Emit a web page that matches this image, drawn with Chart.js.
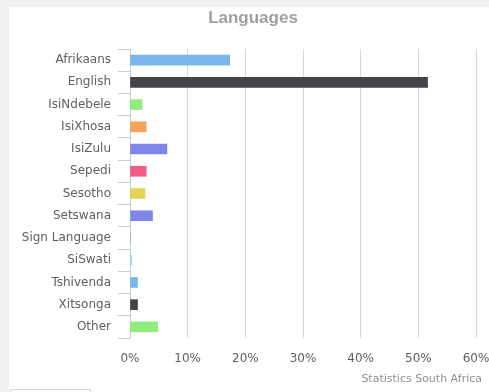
<!DOCTYPE html>
<html>
<head>
<meta charset="utf-8">
<script src="https://cdn.jsdelivr.net/npm/chart.js@4"></script>
<style>
  html, body { margin: 0; padding: 0; width: 489px; height: 392px; overflow: hidden; background: #f1f1f1; }
  #panel { position: absolute; left: 9px; top: 7px; width: 500px; height: 400px; background: #ffffff; }
  #box { position: absolute; left: 10px; top: 389px; width: 79px; height: 20px; border: 1px solid #d4d4d4; background: #fff; }
  #c { position: absolute; left: 0; top: 0; }
  #credits { position: absolute; right: 7px; top: 372px; font: 11px "DejaVu Sans", sans-serif; color: #909090; white-space: nowrap; }
</style>
</head>
<body>
<div id="panel"></div>
<div id="box"></div>
<canvas id="c" width="496" height="392"></canvas>
<div id="credits">Statistics South Africa</div>
<script>
const categories = ["Afrikaans", "English", "IsiNdebele", "IsiXhosa", "IsiZulu", "Sepedi", "Sesotho", "Setswana", "Sign Language", "SiSwati", "Tshivenda", "Xitsonga", "Other"];
const shares = [17.3, 51.6, 2.1, 2.8, 6.4, 2.8, 2.6, 3.9, 0, 0.3, 1.3, 1.3, 4.8];
const barColors = ["#7cb5ec", "#434348", "#90ed7d", "#f7a35c", "#8085e9", "#f15c80", "#e4d354", "#8085e8", "#8d4653", "#91e8e1", "#7cb5ec", "#434348", "#90ed7d"];
const xTicks = [0, 10, 20, 30, 40, 50, 60];

new Chart(document.getElementById('c'), {
  type: 'bar',
  data: {
    labels: categories,
    datasets: [{
      label: 'Languages',
      data: shares,
      backgroundColor: barColors,
      borderWidth: 0,
      barThickness: 10,
      categoryPercentage: 1
    }]
  },
  options: {
    indexAxis: 'y',
    responsive: false,
    animation: false,
    layout: { padding: { left: 10, right: 0, top: 0, bottom: 24 } },
    plugins: {
      legend: { display: false },
      tooltip: { enabled: false },
      title: {
        display: true,
        text: 'Languages',
        color: '#a0a0a0',
        font: { family: '"Liberation Sans", Arial, sans-serif', size: 17, weight: 'bold' },
        padding: { top: 8, bottom: 20.6 }
      }
    },
    scales: {
      x: {
        min: xTicks[0],
        max: xTicks[xTicks.length - 1],
        afterBuildTicks: (s) => { s.ticks = xTicks.map(v => ({ value: v })); },
        afterFit: (s) => { s.height = 30; s.paddingRight = 20; s.paddingLeft = 0; },
        border: { display: false },
        grid: {
          color: (ctx) => ctx.tick && ctx.tick.value === 0 ? 'rgba(0,0,0,0)' : '#d8d8d8',
          drawTicks: false,
          lineWidth: 1
        },
        ticks: {
          padding: 14,
          color: '#606060',
          font: { family: '"DejaVu Sans", sans-serif', size: 12 },
          callback: (v) => v + '%'
        }
      },
      y: {
        afterFit: (s) => { s.width = 120; },
        border: { display: true, color: '#c0d0e0', width: 1 },
        grid: {
          offset: true,
          drawOnChartArea: false,
          drawTicks: true,
          tickLength: 12,
          color: '#c0d0e0'
        },
        ticks: {
          padding: 7,
          color: '#606060',
          font: { family: '"DejaVu Sans", sans-serif', size: 12 }
        }
      }
    }
  }
});
</script>
</body>
</html>
